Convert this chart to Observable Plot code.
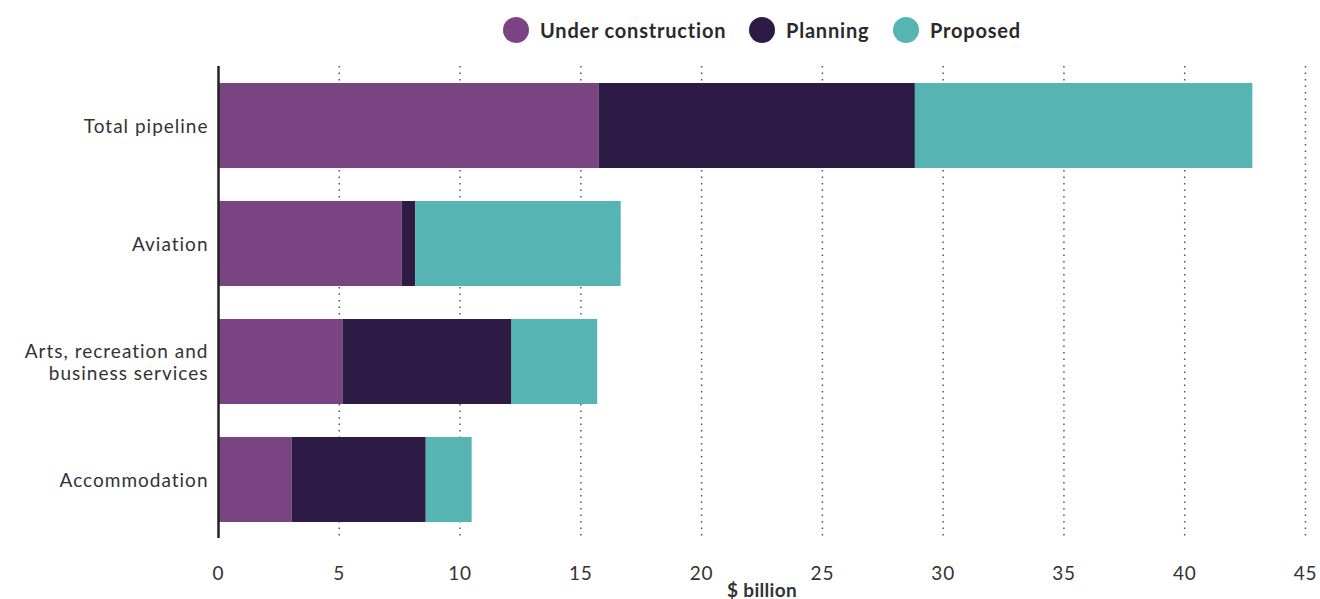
<!DOCTYPE html>
<html>
<head>
<meta charset="utf-8">
<script src="https://cdn.jsdelivr.net/npm/d3@7"></script>
<script src="https://cdn.jsdelivr.net/npm/@observablehq/plot@0.6"></script>
<style>
  html, body { margin: 0; padding: 0; background: #fff; }
  body { width: 1320px; height: 599px; overflow: hidden; font-family: Lato, "Open Sans", sans-serif; }
  #legend { height: 60px; position: relative; }
  .item { position: absolute; top: 17px; display: flex; align-items: center; font-weight: 700; font-size: 20px; color: #2a2a2a; letter-spacing: 0.8px; }
  .sw { width: 26px; height: 26px; border-radius: 50%; margin-right: 11px; }
  svg [aria-label="x-axis label"] text { font-weight: 700; letter-spacing: 0.3px; }
  svg [aria-label="y-axis tick label"] text { letter-spacing: 1px; }
  svg [aria-label="x-axis tick label"] text { letter-spacing: 0.8px; }
</style>
</head>
<body>
<div id="legend"></div>
<div id="chart"></div>
<script>
const categories = ["Total pipeline", "Aviation", "Arts, recreation and business services", "Accommodation"];
const categoryLabels = ["Total pipeline", "Aviation", "Arts, recreation and\nbusiness services", "Accommodation"];
const seriesNames = ["Under construction", "Planning", "Proposed"];
const seriesColors = ["#7A4381", "#2D1B46", "#56B5B2"];
const underConstruction = [15.75, 7.6, 5.15, 3.05];
const planning = [13.1, 0.57, 7.0, 5.55];
const proposed = [13.97, 8.5, 3.55, 1.9];
const xTicks = [0, 5, 10, 15, 20, 25, 30, 35, 40, 45];
const gridTicks = [5, 10, 15, 20, 25, 30, 35, 40, 45];

const seriesValues = [underConstruction, planning, proposed];
const data = [];
seriesNames.forEach((s, i) => {
  categories.forEach((c, j) => data.push({category: c, series: s, value: seriesValues[i][j]}));
});

// legend
const legend = document.getElementById("legend");
const legendLefts = [503, 749, 893];
seriesNames.forEach((s, i) => {
  const it = document.createElement("div");
  it.className = "item";
  it.style.left = legendLefts[i] + "px";
  it.innerHTML = `<span class="sw" style="background:${seriesColors[i]}"></span><span>${s}</span>`;
  legend.appendChild(it);
});

const labelMap = new Map(categories.map((c, i) => [c, categoryLabels[i]]));

const chart = Plot.plot({
  width: 1320,
  height: 539,
  marginTop: 6,
  marginBottom: 61,
  marginLeft: 218,
  marginRight: 15,
  style: {fontFamily: "Lato, 'Open Sans', sans-serif", fontSize: "18px", color: "#333"},
  x: {domain: [0, 45]},
  y: {domain: categories, paddingInner: 0.28, paddingOuter: 0.14},
  color: {domain: seriesNames, range: seriesColors},
  marks: [
    Plot.gridX(gridTicks, {stroke: "#555", strokeOpacity: 1, strokeWidth: 1.5, strokeDasharray: "1.5 5"}),
    Plot.barX(data, {x: "value", y: "category", fill: "series"}),
    Plot.ruleX([0], {stroke: "#222", strokeWidth: 2.5}),
    Plot.axisX({ticks: xTicks, tickSize: 0, tickPadding: 28, fontSize: 19, label: "$ billion", labelAnchor: "center", labelArrow: "none", labelOffset: 58}),
    Plot.axisY({tickSize: 0, tickPadding: 10, tickFormat: d => labelMap.get(d), fontSize: 19, label: null, lineHeight: 1.15})
  ]
});
document.getElementById("chart").appendChild(chart);
</script>
</body>
</html>
